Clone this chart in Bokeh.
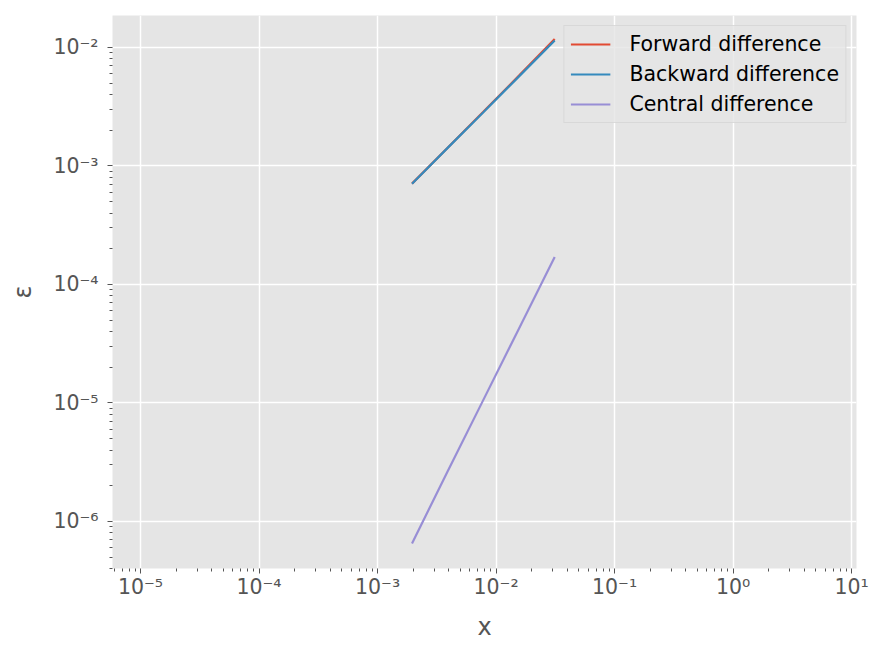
import numpy as np
from bokeh.plotting import figure
from bokeh.models import FixedTicker, CustomJSTickFormatter, Range1d, Legend, LegendItem
from bokeh.embed import file_html
from bokeh.resources import INLINE

# Data
h = [2**-5, 2**-6, 2**-7, 2**-8, 2**-9]
forward_err = [0.01179, 0.00578, 0.00286, 0.001425, 0.000709]
backward_err = [0.01145, 0.00570, 0.00284, 0.00142, 0.000708]
central_err = [1.70e-4, 4.25e-5, 1.06e-5, 2.65e-6, 6.5e-7]

x_ticks = [1e-5, 1e-4, 1e-3, 1e-2, 1e-1, 1e0, 1e1]
y_ticks = [1e-6, 1e-5, 1e-4, 1e-3, 1e-2]

FONT = "DejaVu Sans"
GREY = "#555555"

p = figure(width=876, height=648, x_axis_type="log", y_axis_type="log",
           x_range=Range1d(5.8e-6, 11.0), y_range=Range1d(4.0e-7, 1.86e-2),
           output_backend="svg", toolbar_location=None,
           min_border_left=112, min_border_top=15, min_border_right=20, min_border_bottom=80)
p.background_fill_color = "#E5E5E5"
p.border_fill_color = "white"
p.outline_line_color = None

def minors(lo, hi):
    out = []
    for e in range(lo, hi):
        for m in range(2, 10):
            out.append(m * 10.0**e)
    return out

fmt = CustomJSTickFormatter(code="""
const sup = {'-':'\u207b','0':'\u2070','1':'\u00b9','2':'\u00b2','3':'\u00b3','4':'\u2074','5':'\u2075','6':'\u2076','7':'\u2077','8':'\u2078','9':'\u2079'};
const e = Math.round(Math.log10(tick));
return '10' + String(e).split('').map(c => sup[c]).join('');
""")

p.xaxis.ticker = FixedTicker(ticks=x_ticks, minor_ticks=minors(-6, 2))
p.yaxis.ticker = FixedTicker(ticks=y_ticks, minor_ticks=minors(-7, -1))
for ax in (p.xaxis, p.yaxis):
    ax.formatter = fmt
    ax.axis_line_color = None
    ax.major_tick_line_color = GREY
    ax.minor_tick_line_color = GREY
    ax.major_tick_in = 0
    ax.major_tick_out = 5
    ax.minor_tick_in = 0
    ax.minor_tick_out = 3
    ax.major_label_text_font = FONT
    ax.major_label_text_font_size = "20.5px"
    ax.major_label_text_color = GREY
    ax.axis_label_text_font = FONT
    ax.axis_label_text_font_size = "24px"
    ax.axis_label_text_font_style = "normal"
    ax.axis_label_text_color = GREY
p.xaxis.axis_label = "x"
p.yaxis.axis_label = "ε"
p.xaxis.major_label_standoff = 1
p.yaxis.major_label_standoff = 9
p.xaxis.axis_label_standoff = 11
p.yaxis.axis_label_standoff = 13

p.xgrid.grid_line_color = "white"
p.ygrid.grid_line_color = "white"
p.xgrid.grid_line_width = 1.5
p.ygrid.grid_line_width = 1.5

r1 = p.line(h, forward_err, line_color="#E24A33", line_width=2.2)
r2 = p.line(h, backward_err, line_color="#348ABD", line_width=2.2)
r3 = p.line(h, central_err, line_color="#988ED5", line_width=2.2)

legend = Legend(items=[LegendItem(label="Forward difference", renderers=[r1]),
                       LegendItem(label="Backward difference", renderers=[r2]),
                       LegendItem(label="Central difference", renderers=[r3])],
                location="top_right")
legend.background_fill_color = "#E5E5E5"
legend.background_fill_alpha = 0.8
legend.border_line_color = "#CCCCCC"
legend.border_line_width = 1
legend.label_text_font = FONT
legend.label_text_font_size = "20.5px"
legend.label_text_color = "black"
legend.glyph_width = 40
legend.glyph_height = 24
legend.label_height = 24
legend.spacing = 6
legend.padding = 6
legend.label_standoff = 19
legend.margin = 10
p.add_layout(legend)

open("out.html", "w").write(file_html(p, INLINE))
